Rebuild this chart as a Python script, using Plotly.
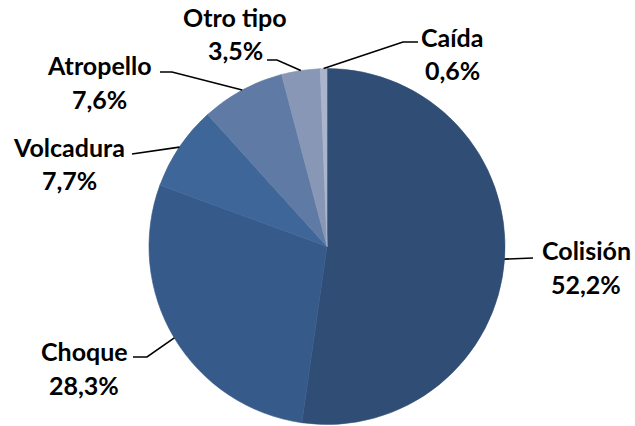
import math
import plotly.graph_objects as go

# data
tipos = ["Colisión", "Choque", "Volcadura", "Atropello", "Otro tipo", "Caída"]
porcentajes = [52.2, 28.3, 7.7, 7.6, 3.5, 0.6]
colores = ["#2F4D75", "#365B8A", "#3E6699", "#5F7AA5", "#8797B5", "#AAB5CC"]

W, H = 635, 426
cx, cy, r = 327, 246.5, 178

# label layout (pixel coords): text centre x, name y, percent y, leader bend points
label_x = [586, 84, 69, 99, 235, 452]
name_y = [250, 351, 147, 65, 17, 37]
pct_y = [284, 385, 180, 99, 50, 70]
bends = [
    [(533, 258)],
    [(147, 357), (133, 357)],
    [(132, 154)],
    [(172, 72), (160, 72)],
    [(277, 60), (267, 60)],
    [(403, 42), (418, 42)],
]

fig = go.Figure()
fig.add_trace(go.Pie(
    labels=tipos, values=porcentajes, sort=False, direction="clockwise",
    # outline each slice in its own colour so no light seams show between them
    marker=dict(colors=colores, line=dict(color=colores, width=0.6)),
    textinfo="none", hoverinfo="label+percent", showlegend=False,
    domain=dict(x=[(cx - r) / W, (cx + r) / W], y=[1 - (cy + r) / H, 1 - (cy - r) / H]),
))

font = dict(family="Lato, 'Open Sans', sans-serif", size=25, color="black")
total = sum(porcentajes)
cum = 0
for i, (t, v) in enumerate(zip(tipos, porcentajes)):
    mid = (cum + v / 2) / total
    cum += v
    a = 2 * math.pi * mid
    px_, py_ = cx + r * math.sin(a), cy - r * math.cos(a)
    pts = [(px_, py_)] + bends[i]
    path = "M " + " L ".join(f"{x:.1f},{y:.1f}" for x, y in pts)
    fig.add_shape(type="path", path=path, xref="x", yref="y",
                  line=dict(color="black", width=1.6))
    fig.add_annotation(x=label_x[i], y=name_y[i], text=f"<b>{t}</b>",
                       showarrow=False, font=font, xanchor="center", yanchor="middle")
    pct = f"{v:.1f}".replace(".", ",") + "%"
    fig.add_annotation(x=label_x[i], y=pct_y[i], text=f"<b>{pct}</b>",
                       showarrow=False, font=font, xanchor="center", yanchor="middle")

fig.update_xaxes(range=[0, W], visible=False, fixedrange=True)
fig.update_yaxes(range=[H, 0], visible=False, fixedrange=True)
fig.update_layout(
    width=W, height=H, margin=dict(l=0, r=0, t=0, b=0),
    paper_bgcolor="white", plot_bgcolor="rgba(0,0,0,0)",
)
# drop the browser's default body margin so the figure sits at (0, 0)
fig.write_html("out.html", config={"displayModeBar": False},
               post_script="document.body.style.margin='0';")
